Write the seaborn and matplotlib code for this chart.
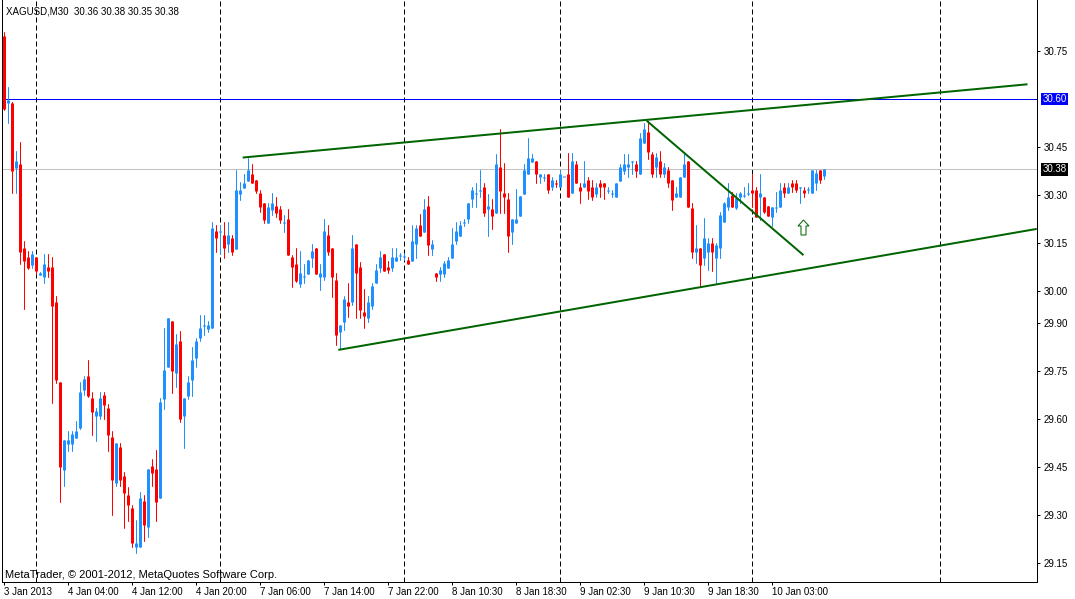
import numpy as np
import pandas as pd
import matplotlib
matplotlib.use("Agg")
import matplotlib.pyplot as plt
import matplotlib.transforms as mtransforms
import seaborn as sns

# XAGUSD M30 candles, bar 0 = 3 Jan 20:00
opens = [30.797, 30.587, 30.588, 30.385, 30.397, 30.134, 30.105, 30.082, 30.105, 30.050,
         30.045, 30.074, 30.074, 29.965, 29.716, 29.441, 29.522, 29.522, 29.542, 29.573,
         29.691, 29.735, 29.665, 29.610, 29.610, 29.674, 29.634, 29.545, 29.401, 29.513,
         29.422, 29.363, 29.321, 29.201, 29.201, 29.344, 29.261, 29.453, 29.443, 29.352,
         29.663, 29.763, 29.906, 29.743, 29.845, 29.610, 29.673, 29.722, 29.792, 29.854,
         29.892, 29.881, 29.883, 30.188, 30.185, 30.175, 30.146, 30.167, 30.131, 30.303,
         30.323, 30.344, 30.366, 30.347, 30.305, 30.274, 30.214, 30.253, 30.266, 30.255,
         30.213, 30.225, 30.105, 30.084, 30.022, 30.044, 30.053, 30.104, 30.135, 30.043,
         30.045, 30.175, 30.135, 30.034, 29.873, 29.904, 29.965, 29.965, 30.146, 30.075,
         29.935, 29.915, 29.954, 30.024, 30.073, 30.116, 30.076, 30.073, 30.095, 30.110,
         30.105, 30.097, 30.094, 30.146, 30.206, 30.185, 30.266, 30.131, 30.055, 30.053,
         30.053, 30.073, 30.104, 30.156, 30.173, 30.212, 30.224, 30.287, 30.303, 30.314,
         30.324, 30.256, 30.256, 30.245, 30.388, 30.305, 30.287, 30.185, 30.213, 30.234,
         30.303, 30.365, 30.404, 30.406, 30.355, 30.354, 30.366, 30.324, 30.338, 30.324,
         30.355, 30.366, 30.305, 30.397, 30.324, 30.324, 30.347, 30.324, 30.303, 30.337,
         30.337, 30.314, 30.304, 30.295, 30.345, 30.376, 30.387, 30.403, 30.397, 30.366,
         30.463, 30.498, 30.428, 30.388, 30.406, 30.366, 30.378, 30.347, 30.295, 30.295,
         30.357, 30.406, 30.258, 30.123, 30.134, 30.103, 30.122, 30.150, 30.103, 30.134,
         30.217, 30.263, 30.300, 30.258, 30.293, 30.297, 30.304, 30.316, 30.316, 30.295,
         30.295, 30.266, 30.232, 30.258, 30.263, 30.326, 30.305, 30.337, 30.337, 30.323,
         30.316, 30.315, 30.305, 30.337, 30.378, 30.360]
highs = [30.809, 30.638, 30.590, 30.438, 30.466, 30.156, 30.125, 30.125, 30.107, 30.060,
         30.116, 30.116, 30.105, 29.984, 29.716, 29.534, 29.563, 29.563, 29.594, 29.716,
         29.735, 29.784, 29.684, 29.634, 29.684, 29.684, 29.646, 29.563, 29.525, 29.525,
         29.435, 29.386, 29.330, 29.284, 29.373, 29.363, 29.443, 29.474, 29.503, 29.665,
         29.885, 29.917, 29.906, 29.866, 29.875, 29.665, 29.735, 29.826, 29.854, 29.925,
         29.925, 29.906, 30.217, 30.206, 30.206, 30.217, 30.217, 30.175, 30.378, 30.342,
         30.366, 30.415, 30.397, 30.347, 30.316, 30.274, 30.274, 30.307, 30.295, 30.266,
         30.238, 30.255, 30.113, 30.133, 30.125, 30.083, 30.097, 30.146, 30.135, 30.083,
         30.224, 30.206, 30.135, 30.055, 29.894, 29.985, 30.024, 30.175, 30.146, 30.091,
         30.006, 29.984, 30.026, 30.083, 30.126, 30.116, 30.094, 30.135, 30.135, 30.118,
         30.118, 30.107, 30.206, 30.206, 30.240, 30.287, 30.297, 30.159, 30.055, 30.076,
         30.094, 30.107, 30.198, 30.217, 30.219, 30.225, 30.276, 30.324, 30.338, 30.378,
         30.338, 30.302, 30.287, 30.428, 30.505, 30.401, 30.305, 30.225, 30.318, 30.297,
         30.397, 30.477, 30.428, 30.406, 30.366, 30.366, 30.366, 30.357, 30.347, 30.378,
         30.357, 30.430, 30.430, 30.406, 30.338, 30.406, 30.357, 30.347, 30.337, 30.347,
         30.337, 30.326, 30.316, 30.337, 30.396, 30.428, 30.428, 30.406, 30.406, 30.495,
         30.526, 30.532, 30.435, 30.430, 30.438, 30.399, 30.388, 30.347, 30.324, 30.357,
         30.428, 30.406, 30.274, 30.206, 30.134, 30.228, 30.166, 30.166, 30.150, 30.247,
         30.279, 30.337, 30.310, 30.305, 30.310, 30.326, 30.337, 30.366, 30.326, 30.366,
         30.295, 30.266, 30.263, 30.310, 30.337, 30.338, 30.337, 30.347, 30.347, 30.324,
         30.326, 30.324, 30.378, 30.378, 30.378, 30.380]
lows = [30.566, 30.526, 30.305, 30.305, 30.083, 29.943, 30.070, 30.073, 30.053, 30.050,
        30.024, 30.045, 29.651, 29.713, 29.342, 29.392, 29.501, 29.501, 29.540, 29.570,
        29.674, 29.670, 29.550, 29.532, 29.600, 29.600, 29.501, 29.300, 29.392, 29.392,
        29.260, 29.282, 29.201, 29.180, 29.201, 29.220, 29.230, 29.390, 29.282, 29.352,
        29.631, 29.763, 29.682, 29.701, 29.592, 29.510, 29.663, 29.673, 29.763, 29.844,
        29.862, 29.873, 29.883, 30.123, 30.115, 30.104, 30.123, 30.113, 30.131, 30.284,
        30.323, 30.344, 30.336, 30.305, 30.246, 30.213, 30.214, 30.238, 30.232, 30.214,
        30.185, 30.113, 30.014, 30.029, 30.014, 30.024, 30.053, 30.074, 30.053, 30.003,
        30.034, 30.113, 29.982, 29.831, 29.818, 29.878, 29.920, 29.956, 29.915, 29.916,
        29.883, 29.904, 29.943, 30.024, 30.058, 30.063, 30.055, 30.063, 30.095, 30.097,
        30.097, 30.083, 30.094, 30.104, 30.173, 30.185, 30.113, 30.113, 30.032, 30.032,
        30.045, 30.073, 30.104, 30.146, 30.173, 30.204, 30.213, 30.263, 30.263, 30.295,
        30.234, 30.173, 30.194, 30.245, 30.243, 30.245, 30.123, 30.146, 30.213, 30.234,
        30.303, 30.365, 30.404, 30.337, 30.337, 30.345, 30.305, 30.316, 30.326, 30.324,
        30.355, 30.295, 30.305, 30.337, 30.274, 30.324, 30.287, 30.284, 30.295, 30.295,
        30.287, 30.305, 30.295, 30.295, 30.345, 30.366, 30.355, 30.366, 30.355, 30.366,
        30.463, 30.412, 30.355, 30.355, 30.355, 30.355, 30.324, 30.253, 30.295, 30.295,
        30.357, 30.263, 30.102, 30.087, 30.013, 30.081, 30.066, 30.063, 30.025, 30.103,
        30.217, 30.253, 30.263, 30.255, 30.274, 30.295, 30.300, 30.263, 30.232, 30.222,
        30.243, 30.234, 30.203, 30.246, 30.263, 30.295, 30.305, 30.310, 30.310, 30.274,
        30.295, 30.305, 30.305, 30.316, 30.337, 30.350]
closes = [30.568, 30.597, 30.376, 30.407, 30.123, 30.095, 30.073, 30.116, 30.063, 30.055,
          30.084, 30.064, 29.954, 29.722, 29.451, 29.534, 29.534, 29.553, 29.563, 29.684,
          29.725, 29.673, 29.623, 29.625, 29.665, 29.643, 29.550, 29.409, 29.524, 29.409,
          29.370, 29.331, 29.212, 29.213, 29.352, 29.269, 29.443, 29.432, 29.342, 29.654,
          29.753, 29.917, 29.751, 29.834, 29.600, 29.665, 29.717, 29.784, 29.844, 29.885,
          29.894, 29.894, 30.196, 30.165, 30.188, 30.133, 30.175, 30.123, 30.316, 30.316,
          30.338, 30.378, 30.336, 30.313, 30.263, 30.222, 30.263, 30.274, 30.245, 30.222,
          30.215, 30.113, 30.074, 30.032, 30.055, 30.046, 30.097, 30.125, 30.053, 30.055,
          30.188, 30.123, 30.045, 29.863, 29.894, 29.975, 29.954, 30.135, 30.055, 29.941,
          29.922, 29.967, 30.016, 30.066, 30.107, 30.063, 30.066, 30.107, 30.107, 30.113,
          30.108, 30.083, 30.156, 30.198, 30.173, 30.256, 30.144, 30.147, 30.045, 30.066,
          30.087, 30.097, 30.147, 30.188, 30.206, 30.215, 30.274, 30.316, 30.306, 30.317,
          30.245, 30.266, 30.235, 30.397, 30.313, 30.295, 30.173, 30.225, 30.225, 30.297,
          30.378, 30.417, 30.417, 30.365, 30.366, 30.357, 30.316, 30.347, 30.335, 30.366,
          30.357, 30.295, 30.406, 30.337, 30.313, 30.337, 30.313, 30.295, 30.324, 30.324,
          30.324, 30.316, 30.305, 30.337, 30.387, 30.397, 30.397, 30.405, 30.376, 30.479,
          30.505, 30.435, 30.366, 30.420, 30.366, 30.388, 30.337, 30.284, 30.305, 30.357,
          30.397, 30.263, 30.123, 30.134, 30.081, 30.166, 30.150, 30.122, 30.144, 30.238,
          30.274, 30.295, 30.263, 30.290, 30.305, 30.298, 30.305, 30.305, 30.232, 30.305,
          30.248, 30.234, 30.263, 30.263, 30.316, 30.305, 30.324, 30.324, 30.316, 30.324,
          30.305, 30.316, 30.378, 30.368, 30.347, 30.380]

tick_bars = [0, 16, 32, 48, 64, 80, 96, 112, 128, 144, 160, 176, 192]
tick_labels = ["3 Jan 2013", "4 Jan 04:00", "4 Jan 12:00", "4 Jan 20:00", "7 Jan 06:00",
               "7 Jan 14:00", "7 Jan 22:00", "8 Jan 10:30", "8 Jan 18:30", "9 Jan 02:30",
               "9 Jan 10:30", "9 Jan 18:30", "10 Jan 03:00"]
separator_bars = [8, 54, 100, 139, 187, 234]
price_ticks = [30.75, 30.45, 30.30, 30.15, 30.00, 29.90, 29.75, 29.60, 29.45, 29.30, 29.15]

# hand-drawn trend lines, (bar, price) end points
upper_channel = [(59.8, 30.417), (256.0, 30.646)]
lower_channel = [(83.7, 29.816), (258.3, 30.194)]
falling_line = [(160.8, 30.532), (200.0, 30.112)]
arrow_bar, arrow_price = 200.0, 30.175

blue_level = 30.60
bid_level = 30.38

UP, DOWN = "#1E90FF", "#FF0000"
GREEN = "#006400"
PX = 0.72  # one pixel in points at dpi 100

candles = pd.DataFrame({"bar": np.arange(len(opens)), "open": opens, "high": highs,
                        "low": lows, "close": closes})
candles["dir"] = np.where(candles["close"] >= candles["open"], "up", "down")
candles["body_lo"] = candles[["open", "close"]].min(axis=1)
candles["body_hi"] = np.maximum(candles[["open", "close"]].max(axis=1),
                                candles["body_lo"] + 1 / 320)

wicks = pd.concat([
    candles[["bar", "dir"]].assign(price=candles["low"]),
    candles[["bar", "dir"]].assign(price=candles["high"]),
]).sort_values("bar", kind="stable")
bodies = pd.concat([
    candles[["bar", "dir"]].assign(price=candles["body_lo"]),
    candles[["bar", "dir"]].assign(price=candles["body_hi"]),
]).sort_values("bar", kind="stable")

sns.set_style("white")
plt.rcParams["font.family"] = ["Liberation Sans", "DejaVu Sans"]

fig = plt.figure(figsize=(10.75, 5.99), dpi=100)
ax = fig.add_axes([2 / 1075, 17 / 599, 1035 / 1075, 582 / 599])

for b in separator_bars:
    ax.axvline(b, color="black", lw=PX, dashes=(5, 3), zorder=1, snap=True)
ax.axhline(bid_level, color="#C0C0C0", lw=PX, zorder=1.5, snap=True)
ax.axhline(blue_level, color="blue", lw=PX, zorder=1.5, snap=True)

palette = {"up": UP, "down": DOWN}
sns.lineplot(data=wicks, x="bar", y="price", hue="dir", units="bar", estimator=None,
             sort=False, palette=palette, lw=PX, legend=False, ax=ax, zorder=2,
             snap=True)
sns.lineplot(data=bodies, x="bar", y="price", hue="dir", units="bar", estimator=None,
             sort=False, palette=palette, lw=3 * PX, solid_capstyle="butt",
             legend=False, ax=ax, zorder=2.1, snap=True)

for line in (upper_channel, lower_channel, falling_line):
    xs, ys = zip(*line)
    ax.plot(xs, ys, color=GREEN, lw=2 * PX, zorder=3, solid_capstyle="butt")

ax.arrow(arrow_bar, arrow_price, 0, 15 / 320, width=1.25, head_width=2.75,
         head_length=6 / 320, length_includes_head=True, fc="white", ec=GREEN,
         lw=PX, zorder=3)

ax.set_xlim(-0.375, 258.375)
ax.set_ylim(30 - 291 / 320, 30 + 291 / 320)
ax.set_xlabel("")
ax.set_ylabel("")

ax.set_xticks(tick_bars)
ax.set_xticklabels(tick_labels)
ax.yaxis.tick_right()
ax.set_yticks(price_ticks)
ax.set_yticklabels([f"{p:.2f}" for p in price_ticks])
ax.tick_params(axis="x", direction="out", length=3 * PX, width=PX, pad=1.5,
               labelsize=7, colors="black", bottom=True)
ax.tick_params(axis="y", direction="out", length=3 * PX, width=PX, pad=2.5,
               labelsize=7, colors="black", right=True, left=False)
shift = mtransforms.ScaledTranslation(0, 0, fig.dpi_scale_trans)
for lab in ax.get_xticklabels():
    lab.set_ha("left")
    lab.set_transform(lab.get_transform() + shift)

for side in ("left", "bottom", "right"):
    ax.spines[side].set_visible(True)
    ax.spines[side].set_color("black")
    ax.spines[side].set_linewidth(PX)
ax.spines["top"].set_visible(False)

box_tr = mtransforms.blended_transform_factory(ax.transAxes, ax.transData) + \
    mtransforms.ScaledTranslation(5.5 / 100, 0, fig.dpi_scale_trans)
for level, colour in ((blue_level, "#0000FF"), (bid_level, "black")):
    ax.text(1.0, level, f"{level:.2f}", transform=box_tr, ha="left", va="center",
            fontsize=7, color="white", clip_on=False,
            bbox=dict(boxstyle="square,pad=0.15", fc=colour, ec="none"))

fig.text(6 / 1075, 1 - 14 / 599,
         f"XAGUSD,M30  {opens[-1]:.2f} {highs[-1]:.2f} {lows[-1]:.2f} {closes[-1]:.2f}",
         fontsize=7, va="baseline", ha="left", color="black")
fig.text(5 / 1075, 1 - 578 / 599, "MetaTrader, © 2001-2012, MetaQuotes Software Corp.",
         fontsize=8, va="baseline", ha="left", color="black")

fig.savefig("out.png", dpi=100, facecolor="white")
